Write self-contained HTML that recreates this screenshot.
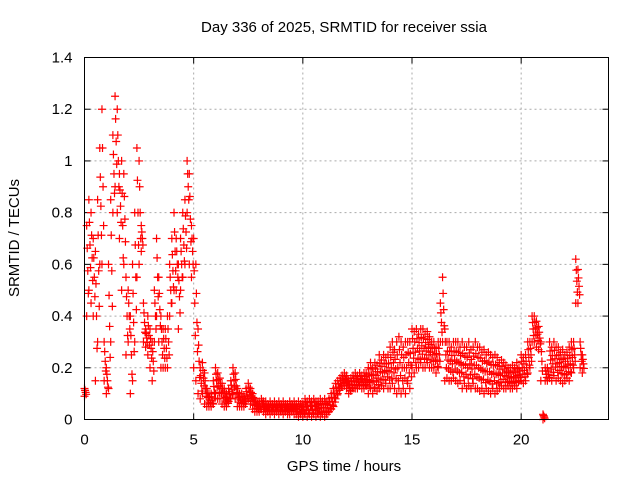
<!DOCTYPE html>
<html><head><meta charset="utf-8"><style>
body{margin:0;background:#fff;}
svg{display:block;font-family:"Liberation Sans",sans-serif;}
</style></head><body>
<svg id="chart" width="640" height="480">
<text x="344" y="32" font-size="15" text-anchor="middle">Day 336 of 2025, SRMTID for receiver ssia</text>
<text x="344" y="471" font-size="15" text-anchor="middle">GPS time / hours</text>
<text transform="translate(19,238) rotate(-90)" font-size="15" text-anchor="middle">SRMTID / TECUs</text>
<g id="grid"></g><g id="marks"></g>
<rect x="84.5" y="57.5" width="524" height="362" fill="none" stroke="#000" stroke-width="1"/>
</svg>
<script>
const xTicks=[0,5,10,15,20];
const yTicks=[0,0.2,0.4,0.6,0.8,1,1.2,1.4];
const yLabels=["0","0.2","0.4","0.6","0.8","1","1.2","1.4"];
const tStep=0.1;
const hi=[.12,.75,.85,.8,.7,.65,.85,1.05,1.2,.3,.2,.6,.85,1.1,1.25,1.2,.95,1.0,.95,.55,
.5,.4,.6,.8,1.05,1.0,.75,.45,.35,.4,.35,.3,.5,.7,.55,.4,.35,.35,.4,.6,
.7,.8,.7,.6,.7,.8,.85,1.0,.95,.75,.7,.6,.35,.2,.22,.18,.12,.1,.1,.15,
.2,.18,.16,.14,.12,.1,.12,.15,.2,.18,.12,.1,.1,.09,.12,.14,.12,.1,.08,.07,
.07,.08,.07,.07,.06,.07,.06,.07,.06,.07,.06,.07,.06,.06,.07,.06,.07,.06,.07,.06,
.06,.08,.07,.08,.07,.08,.07,.07,.08,.07,.08,.07,.08,.1,.12,.14,.15,.16,.17,.18,
.17,.15,.16,.17,.18,.17,.18,.17,.18,.18,.2,.22,.2,.22,.21,.25,.23,.25,.24,.25,
.28,.3,.27,.3,.32,.3,.28,.3,.3,.3,.35,.34,.35,.33,.35,.35,.33,.34,.32,.3,
.3,.28,.3,.45,.55,.35,.3,.3,.28,.3,.3,.3,.28,.3,.28,.28,.3,.27,.28,.3,
.28,.28,.26,.27,.25,.26,.25,.24,.25,.24,.22,.23,.22,.21,.2,.2,.21,.2,.22,.2,
.25,.24,.25,.3,.3,.4,.4,.38,.36,.3,.02,.2,.2,.3,.28,.3,.28,.28,.26,.27,
.25,.26,.28,.3,.3,.62,.58,.3,.25];
const lo=[.09,.4,.5,.45,.4,.15,.3,.6,.6,.15,.1,.12,.3,.8,.9,.8,.7,.5,.6,.25,
.3,.1,.15,.3,.55,.6,.65,.3,.28,.25,.2,.15,.3,.4,.3,.2,.2,.2,.2,.4,
.45,.5,.5,.35,.5,.55,.6,.8,.6,.55,.2,.15,.1,.08,.1,.06,.05,.05,.05,.06,
.1,.08,.08,.06,.05,.05,.07,.08,.1,.08,.05,.05,.05,.05,.07,.08,.06,.04,.03,.03,
.03,.04,.03,.02,.03,.02,.03,.02,.03,.02,.03,.02,.03,.02,.02,.03,.02,.02,.01,.02,
.01,.02,.01,.02,.01,.02,.01,.02,.01,.02,.01,.02,.03,.04,.05,.08,.1,.12,.13,.13,
.12,.1,.11,.12,.12,.12,.13,.12,.12,.13,.1,.12,.1,.12,.11,.12,.13,.12,.14,.12,
.12,.14,.12,.1,.12,.1,.12,.1,.14,.12,.2,.18,.2,.2,.22,.2,.2,.22,.2,.2,
.2,.18,.2,.3,.3,.15,.16,.15,.15,.16,.15,.14,.15,.12,.14,.12,.13,.12,.14,.12,
.12,.11,.12,.1,.12,.11,.1,.12,.1,.11,.12,.13,.12,.12,.13,.12,.12,.13,.12,.15,
.15,.14,.15,.18,.2,.3,.3,.28,.27,.15,0,.15,.15,.16,.15,.17,.15,.16,.15,.14,
.15,.16,.15,.18,.2,.45,.45,.2,.18];
const X0=84.5,X1=608.5,Y0=419.5,Y1=57.5;
function xs(v){return X0+v/24*(X1-X0);}
function ys(v){return Y0-v/1.4*(Y0-Y1);}
const NS="http://www.w3.org/2000/svg";
const grid=document.getElementById('grid'),marks=document.getElementById('marks');
function mk(tag,attrs,parent){const e=document.createElementNS(NS,tag);for(const k in attrs)e.setAttribute(k,attrs[k]);parent.appendChild(e);return e;}
yTicks.forEach((v,i)=>{const y=ys(v);
 if(i>0&&i<yTicks.length-1){const g=mk('line',{x1:X0,x2:X1,y1:y,y2:y,stroke:'#aaa','stroke-dasharray':'2,3'},grid);}
 mk('line',{x1:X0,x2:X0+6,y1:y,y2:y,stroke:'#000'},grid);mk('line',{x1:X1,x2:X1-6,y1:y,y2:y,stroke:'#000'},grid);
 const t=mk('text',{x:X0-12,y:y+5,'font-size':15,'text-anchor':'end'},grid);t.textContent=yLabels[i];
 });
xTicks.forEach(v=>{const x=xs(v);
 if(v>0){const g=mk('line',{x1:x,x2:x,y1:Y0,y2:Y1,stroke:'#aaa','stroke-dasharray':'2,3'},grid);}
 mk('line',{x1:x,x2:x,y1:Y0,y2:Y0-6,stroke:'#000'},grid);mk('line',{x1:x,x2:x,y1:Y1,y2:Y1+6,stroke:'#000'},grid);
 const t=mk('text',{x:x,y:Y0+25,'font-size':15,'text-anchor':'middle'},grid);t.textContent=String(v);
 });
function plus(t,v,col){const x=xs(t),y=ys(v);
 const p=mk('path',{d:`M${x-4},${y}h8M${x},${y-4}v8`,stroke:col,'stroke-width':1.2,fill:'none'},marks);
 
 }
hi.forEach((v,i)=>{const t=i*tStep,l=lo[i];
 plus(t,v,'#f00');
 plus(t+0.025,l+(v-l)*0.75,'#f00');
 plus(t+0.05,(v+l)/2,'#f00');
 plus(t+0.075,l+(v-l)*0.25,'#f00');});
lo.forEach((v,i)=>{plus(i*tStep,v,'#f00');});
</script>
</body></html>
